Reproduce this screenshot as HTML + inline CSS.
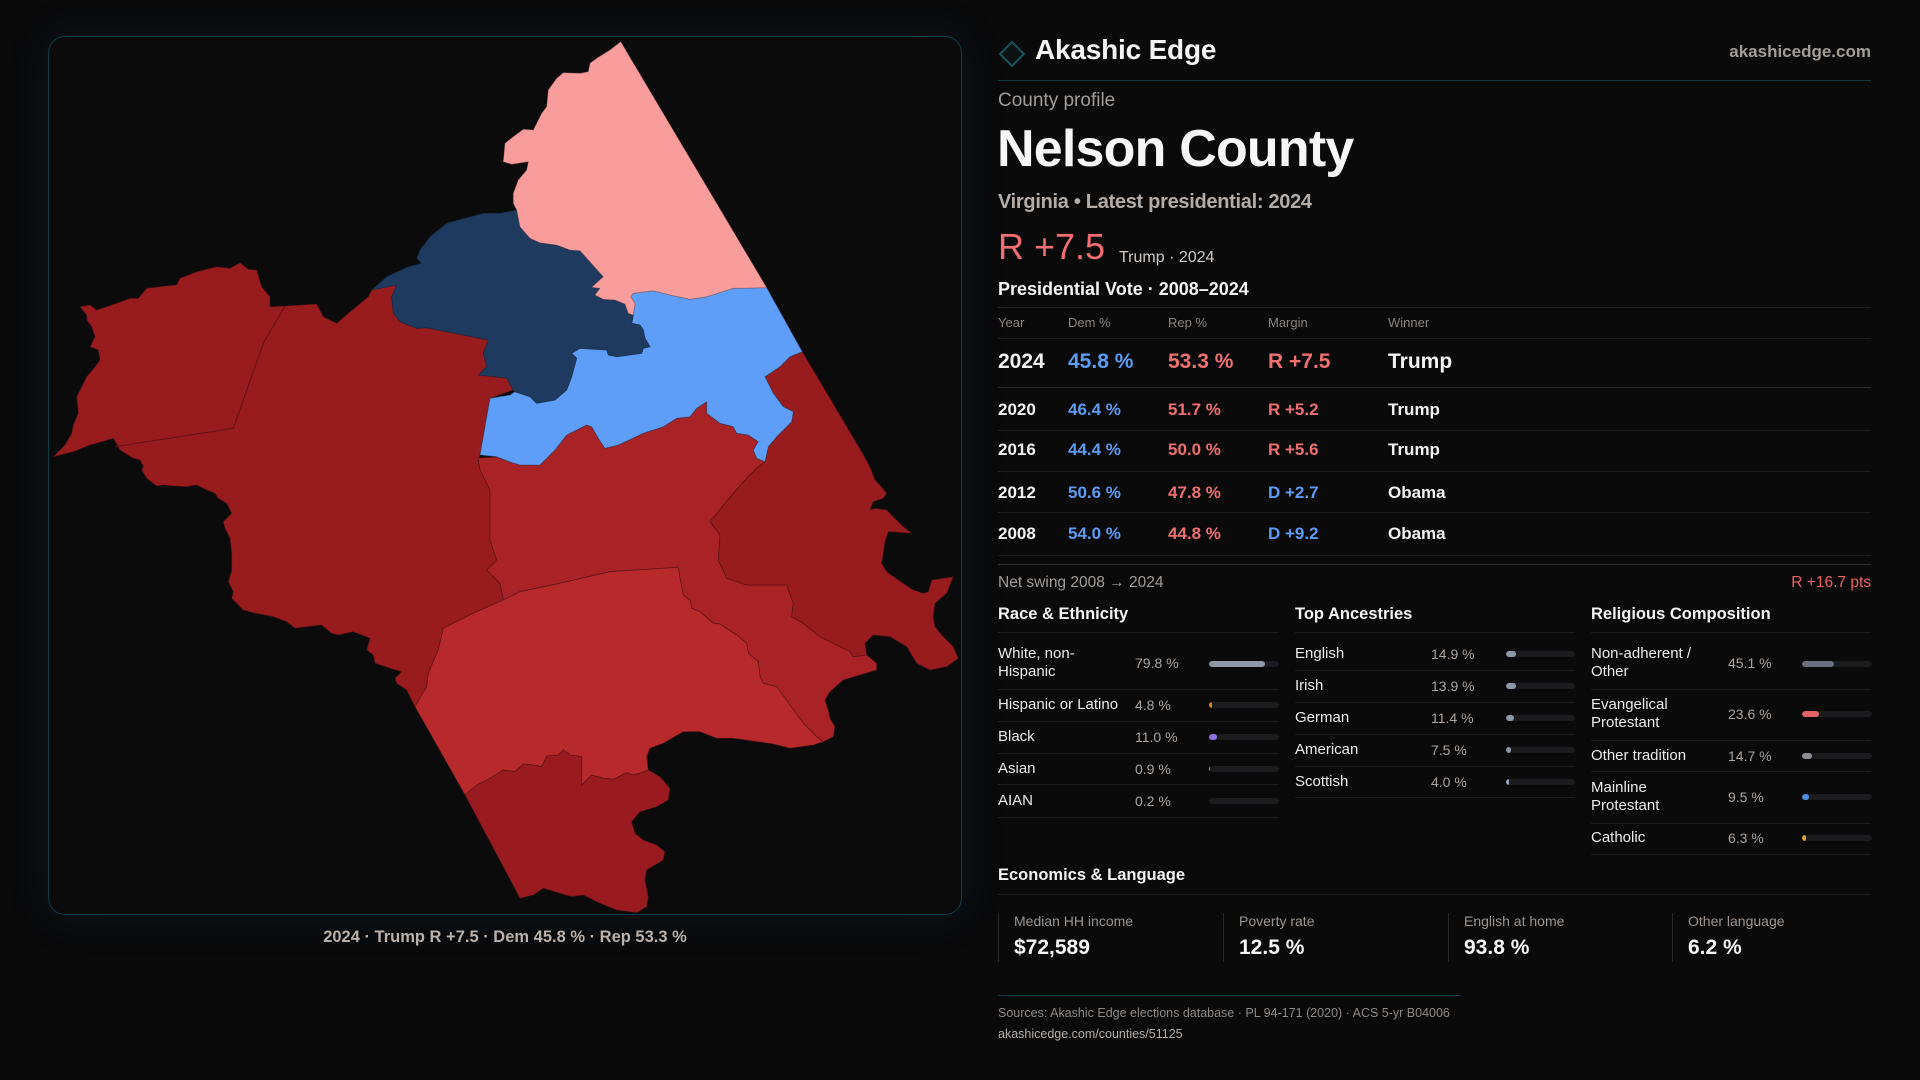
<!DOCTYPE html>
<html><head><meta charset="utf-8">
<style>
*{margin:0;padding:0;box-sizing:border-box}
html,body{width:1920px;height:1080px;background:#0a0a0b;overflow:hidden;font-family:"Liberation Sans",sans-serif;}
.a{position:absolute;white-space:nowrap;line-height:1}
.hl{position:absolute;height:1px;background:#1d1d20}
.th{font-size:13px;color:#8a847f;top:316px}
.r1{font-size:21px;font-weight:bold;top:351px}
.rr{font-size:17px;font-weight:bold}
.w{color:#f2f2f2}.d{color:#5b9cf6}.p{color:#f07070}
.lab{position:absolute;font-size:15px;line-height:18px;color:#ebebeb;white-space:nowrap}
.val{position:absolute;font-size:14px;line-height:18px;color:#aaa39e;white-space:nowrap}
.bar{position:absolute;height:6px;border-radius:3px;background:#1c1c1f;overflow:hidden}
.bar i{position:absolute;left:0;top:0;height:6px;border-radius:3px;display:block}
.sec{position:absolute;font-size:16.5px;font-weight:bold;color:#f2f2f2;line-height:1;top:606px;white-space:nowrap}
.box{position:absolute;top:913px;height:49px;width:224px;border-left:1px solid #2a2a2d}
.box .l{position:absolute;left:15px;top:1px;font-size:14px;color:#9c958f;line-height:1;white-space:nowrap}
.box .v{position:absolute;left:15px;top:24px;font-size:21px;font-weight:bold;color:#f4f4f4;line-height:1;white-space:nowrap}
</style></head><body>

<!-- map panel -->
<div style="position:absolute;left:48px;top:36px;width:914px;height:879px;border:1px solid #0f3d48;border-radius:17px;background:#0c0b0c;box-shadow:0 0 40px rgba(15,70,85,0.22)"></div>

<svg style="position:absolute;left:0;top:0" width="1920" height="1080" viewBox="0 0 1920 1080">
<g stroke="#3a1212" stroke-opacity="0.55" stroke-width="0.8" stroke-linejoin="round">
<!-- west dark red -->
<polygon fill="#981b1e" points="53.3,456.7 65,445 71.7,433.3 73.3,425 78.3,413.3 76.7,396.7 81.7,386.7 86.7,376.7 95,366.7 100,360 98.3,350 90,346.7 95,336.7 91.7,326.7 86.7,320 86.7,315 80,306.7 90,305 96.7,310 116.7,303.3 130,298.3 138.3,298.3 146.7,288.3 165,286 176.7,285 180,278.3 196.7,271.7 216.7,266.7 230,268.3 240,262.7 248.3,269.3 256.7,270 261.7,286.7 270,296.7 270,306.7 285,306 316.7,304 323.3,316.7 336.7,323.3 350,311.7 368.3,296.7 371.7,290 396.7,285 391.7,296.7 393.3,313.3 400,321.7 416.7,328.3 426.7,327.7 488.3,340 483.3,353.3 486.7,366.7 478.3,375 506.7,378 513,390 490,398.3 480,455 478,460 480,470 490,490 490,540 496.7,560 486.7,570 500,583.3 503.3,600 473.3,613.3 443.3,628.3 438.3,650 428.3,673.3 426.7,686.7 415,706.7 406.7,690 396.7,683.3 395,678.3 401.7,671.7 390,668.3 375,663.3 373.3,655 366.7,650 370,638.3 353.3,631.7 338.3,635 331.7,633.3 321.7,625 306.7,626.7 295,628.3 286.7,621.7 273.3,616.7 253.3,612.7 243.3,610 236.7,603.3 231.7,598.3 233.3,591.7 228.3,581.7 231.7,570 231.7,553.3 230,538.3 225,528.3 223.3,521.7 231.7,513.3 226.7,503.3 218.3,498.3 215,493.3 206.7,490 196.7,485 186.7,486.7 175,486 163.3,485 156.7,486 146.7,478.3 141.7,470 143.3,466 140,460 133.3,458.3 120,450 113.3,438.3 101.7,441.7 90,445 73.3,451.7"/>
<polyline fill="none" stroke="#5c1215" stroke-opacity="0.9" stroke-width="1" points="285,306 263.3,343.3 233.3,428.3 115,446.7"/>
<!-- central red -->
<polygon fill="#a82226" points="478,458 496.7,457 510,462 520,465 540,465 555,450 566.7,435 586.7,425 591.7,426.7 598.3,438.3 605,448.3 618.3,445 643.3,433.3 663.3,426.7 676.7,418.3 690,416.7 696.7,408.3 706.7,401.7 706.7,413.3 720,423.3 733.3,426.7 736.7,433.3 748.3,435 758.3,441.7 753.3,450 756.7,458.3 765,461.7 756.7,468.3 746.7,478.3 733.3,493.3 710,521.7 720,535 718.3,560 726.7,578.3 746.7,585 773.3,585 786.7,585 793.3,603.3 791.7,616.7 803.3,623.3 820,636.7 833.3,643.3 850,651.7 853.3,656.7 866.7,655 876.7,663.3 876.7,670 860,675 843.3,680 830,691.7 825,700 828.3,710 830,718.3 835,726.7 833.3,736.7 823.3,741.7 816.7,736.7 803.3,723.3 790,705 776.7,686.7 763.3,683.3 760,676.7 758.3,661.7 748.3,653.3 746.7,643.3 736.7,635 720,624 713.3,623.3 700,611.7 691.7,608.3 690,600 683.3,595 680,578.3 678.3,567.3 610,571.7 560,583.3 520,591.7 503.3,600 500,583.3 486.7,570 496.7,560 490,540 490,490 480,470"/>
<!-- lighter south-central -->
<polygon fill="#b8292c" points="503.3,600 520,591.7 560,583.3 610,571.7 678.3,567.3 680,578.3 683.3,595 690,600 691.7,608.3 700,611.7 713.3,623.3 720,624 736.7,635 746.7,643.3 748.3,653.3 758.3,661.7 760,676.7 763.3,683.3 776.7,686.7 790,705 803.3,723.3 816.7,736.7 823.3,741.7 813.3,745 790,748.3 773.3,744 733.3,738.3 716.7,738.3 700,731.7 683.3,731.7 663.3,743.3 650,748.3 646.7,756.7 648.3,770 640,773.3 633.3,775 626.7,772.7 613.3,779.3 603.3,778.3 591.7,775 581.7,785 581.7,756.7 570,755 563.3,750 558.3,755 546.7,756 541.7,766.7 533.3,765 523.3,764 515,771.7 503.3,770 490,778.3 476.7,785 465,795 415,706.7 426.7,686.7 428.3,673.3 438.3,650 443.3,628.3 473.3,613.3"/>
<!-- south dark red -->
<polygon fill="#991b1f" points="465,795 476.7,785 490,778.3 503.3,770 515,771.7 523.3,764 533.3,765 541.7,766.7 546.7,756 558.3,755 563.3,750 570,755 581.7,756.7 581.7,785 591.7,775 603.3,778.3 613.3,779.3 626.7,772.7 633.3,775 640,773.3 648.3,770 651.7,771.7 660,776.7 670,788.3 668.3,800 656.7,806.7 640,811.7 631.7,821.7 635,833.3 643.3,840 656.7,845 665,851.7 663.3,860 646.7,870 645,880 648.3,896.7 646.7,906.7 636.7,912.7 616.7,910 600,903.3 583.3,895 571.7,896.7 560,893.3 543.3,888.3 533.3,895 520,898.3"/>
<!-- east dark red -->
<polygon fill="#981b1e" points="802.3,351.7 863,454 870,467 875,480 878.3,483.3 886.7,493.3 883.3,498.3 873.3,501.7 870,510 875,508.3 886.7,510 903.3,526.7 911.7,533.3 888.3,531.7 885,541.7 883.3,553.3 881.7,563.3 886.7,571.7 898.3,580 913.3,590 923.3,593.3 928.3,591.7 931.7,580 953.3,576.7 946.7,593.3 935,603.3 933.3,616.7 935,626.7 943.3,636.7 953.3,646.7 958.3,658.3 946.7,666.7 930,670 916.7,663.3 906.7,646.7 890,636.7 873.3,635 865,643.3 866.7,655 853.3,656.7 850,651.7 833.3,643.3 820,636.7 803.3,623.3 791.7,616.7 793.3,603.3 786.7,585 746.7,585 726.7,578.3 718.3,560 720,535 710,521.7 733.3,493.3 746.7,478.3 756.7,468.3 765,461.7 768.3,446.7 776.7,436.7 791.7,421.7 793.3,411.7 783.3,406.7 773.3,393.3 765,376.7 780,366.7 790,356.7"/>
<!-- light blue -->
<polygon fill="#5e9ef8" stroke="#2a3a55" points="633.3,315 635,303.3 630.7,296.7 633.3,293.3 653.3,290.7 670,295 690,299.3 706.7,296.7 733.3,288.3 766.7,287.7 802.3,351.7 790,356.7 780,366.7 765,376.7 773.3,393.3 783.3,406.7 793.3,411.7 791.7,421.7 776.7,436.7 768.3,446.7 765,461.7 756.7,458.3 753.3,450 758.3,441.7 748.3,435 736.7,433.3 733.3,426.7 720,423.3 706.7,413.3 706.7,401.7 696.7,408.3 690,416.7 676.7,418.3 663.3,426.7 643.3,433.3 618.3,445 605,448.3 598.3,438.3 591.7,426.7 586.7,425 566.7,435 555,450 540,465 520,465 510,462 496.7,456.7 480,455 490,398.3 510,395 515,391.7 530,396.7 536.7,403.3 555,400 566.7,390 571.7,376.7 576.7,358.3 571.7,353.3 580,348.3 606.7,350 608.3,355 616.7,356.7 641.7,353.3 643.3,348.3 650,346.7 645,338.3 643.3,330 640,325 631.7,323.3"/>
<!-- navy -->
<polygon fill="#1f3a5f" stroke="#142640" points="483.3,213.3 500,213.3 516.7,210 520,226.7 530,238.3 540,242.7 556.7,245 570,250 580,250.7 603.3,276.7 591.7,287.3 600,288.3 595,295 603.3,299.3 615,300 625,304 628.3,313.3 633.3,315 631.7,323.3 640,325 643.3,330 645,338.3 650,346.7 643.3,348.3 641.7,353.3 616.7,356.7 608.3,355 606.7,350 580,348.3 571.7,353.3 576.7,358.3 571.7,376.7 566.7,390 555,400 536.7,403.3 530,396.7 515,391.7 513,390 506.7,378 478.3,375 486.7,366.7 483.3,353.3 488.3,340 426.7,327.7 416.7,328.3 400,321.7 393.3,313.3 391.7,296.7 396.7,285 371.7,290 386.7,276.7 406.7,267.3 421.7,263.3 416.7,258.3 420,250 430,236.7 446.7,223.3"/>
<!-- pink -->
<polygon fill="#f89c9c" stroke="#7a4a4a" stroke-opacity="0.4" points="620.7,41.7 610,50 596.7,58.3 590,63.3 588.3,71.7 580,73.3 563.3,72.7 556.7,78.3 548.3,90 546.7,106.7 541.7,113.3 536.7,123.3 533.3,130 523.3,129.3 513.3,136.7 505,143.3 503.3,161.7 511.7,164.3 528.3,161.7 526.7,170 518.3,180 513.3,193.3 513.3,203.3 516.7,210 520,226.7 530,238.3 540,242.7 556.7,245 570,250 580,250.7 603.3,276.7 591.7,287.3 600,288.3 595,295 603.3,299.3 615,300 625,304 628.3,313.3 633.3,315 635,303.3 630.7,296.7 633.3,293.3 653.3,290.7 670,295 690,299.3 706.7,296.7 733.3,288.3 766.7,287.7"/>
</g>
</svg>

<div class="a" style="left:48px;width:914px;text-align:center;top:929px;font-size:16.5px;font-weight:bold;color:#b9b1ab">2024 · Trump R +7.5 · Dem 45.8 % · Rep 53.3 %</div>

<!-- header -->
<svg style="position:absolute;left:998px;top:40px" width="28" height="28" viewBox="0 0 28 28"><polygon points="14,2 26,14 14,26 2,14" fill="#0b1214" stroke="#17535f" stroke-width="2"/></svg>
<div class="a" style="left:1035px;top:36px;font-size:28px;font-weight:bold;color:#f4f4f4;letter-spacing:-0.2px">Akashic Edge</div>
<div class="a" style="right:49px;top:43px;font-size:17px;font-weight:bold;color:#a39d98">akashicedge.com</div>
<div class="hl" style="left:998px;width:873px;top:80px;background:#0f3a42"></div>

<div class="a" style="left:998px;top:91px;font-size:19px;color:#a19c98">County profile</div>
<div class="a" style="left:997px;top:123px;font-size:52px;font-weight:bold;color:#f6f6f6;letter-spacing:-0.8px">Nelson County</div>
<div class="a" style="left:998px;top:192px;font-size:20px;font-weight:bold;color:#b3aca7;letter-spacing:-0.3px">Virginia • Latest presidential: 2024</div>
<div class="a" style="left:998px;top:229px;font-size:36px;color:#f26d6d">R +7.5</div>
<div class="a" style="left:1119px;top:250px;font-size:16px;color:#cfc9c4">Trump · 2024</div>
<div class="a" style="left:998px;top:280px;font-size:18px;font-weight:bold;color:#f4f4f4">Presidential Vote · 2008–2024</div>
<div class="hl" style="left:998px;width:873px;top:307px;background:#222225"></div>

<!-- table -->
<div class="a th" style="left:998px">Year</div>
<div class="a th" style="left:1068px">Dem %</div>
<div class="a th" style="left:1168px">Rep %</div>
<div class="a th" style="left:1268px">Margin</div>
<div class="a th" style="left:1388px">Winner</div>
<div class="hl" style="left:998px;width:873px;top:338px"></div>

<div class="a r1 w" style="left:998px">2024</div>
<div class="a r1 d" style="left:1068px">45.8 %</div>
<div class="a r1 p" style="left:1168px">53.3 %</div>
<div class="a r1 p" style="left:1268px">R +7.5</div>
<div class="a r1 w" style="left:1388px">Trump</div>
<div class="hl" style="left:998px;width:873px;top:387px;background:#2b2b2e"></div>

<div class="a rr w" style="left:998px;top:401px">2020</div>
<div class="a rr d" style="left:1068px;top:401px">46.4 %</div>
<div class="a rr p" style="left:1168px;top:401px">51.7 %</div>
<div class="a rr p" style="left:1268px;top:401px">R +5.2</div>
<div class="a rr w" style="left:1388px;top:401px">Trump</div>
<div class="hl" style="left:998px;width:873px;top:430px"></div>

<div class="a rr w" style="left:998px;top:441px">2016</div>
<div class="a rr d" style="left:1068px;top:441px">44.4 %</div>
<div class="a rr p" style="left:1168px;top:441px">50.0 %</div>
<div class="a rr p" style="left:1268px;top:441px">R +5.6</div>
<div class="a rr w" style="left:1388px;top:441px">Trump</div>
<div class="hl" style="left:998px;width:873px;top:471px"></div>

<div class="a rr w" style="left:998px;top:484px">2012</div>
<div class="a rr d" style="left:1068px;top:484px">50.6 %</div>
<div class="a rr p" style="left:1168px;top:484px">47.8 %</div>
<div class="a rr d" style="left:1268px;top:484px">D +2.7</div>
<div class="a rr w" style="left:1388px;top:484px">Obama</div>
<div class="hl" style="left:998px;width:873px;top:512px"></div>

<div class="a rr w" style="left:998px;top:525px">2008</div>
<div class="a rr d" style="left:1068px;top:525px">54.0 %</div>
<div class="a rr p" style="left:1168px;top:525px">44.8 %</div>
<div class="a rr d" style="left:1268px;top:525px">D +9.2</div>
<div class="a rr w" style="left:1388px;top:525px">Obama</div>
<div class="hl" style="left:998px;width:873px;top:555px"></div>
<div class="hl" style="left:998px;width:873px;top:564px;background:#303033"></div>

<div class="a" style="left:998px;top:575px;font-size:15.5px;color:#a39d98">Net swing 2008 → 2024</div>
<div class="a" style="right:49px;top:575px;font-size:15.5px;color:#f06464">R +16.7 pts</div>

<!-- sections -->
<div class="sec" style="left:998px">Race &amp; Ethnicity</div>
<div class="sec" style="left:1295px">Top Ancestries</div>
<div class="sec" style="left:1591px">Religious Composition</div>
<div class="hl" style="left:998px;width:281px;top:632px"></div>
<div class="hl" style="left:1295px;width:280px;top:632px"></div>
<div class="hl" style="left:1591px;width:280px;top:632px"></div>

<!-- race -->
<div class="lab" style="left:998px;top:645px">White, non-<br>Hispanic</div>
<div class="val" style="left:1135px;top:654px">79.8 %</div>
<div class="bar" style="left:1209px;top:661px;width:70px"><i style="width:56px;background:#8e98a8"></i></div>
<div class="hl" style="left:998px;width:281px;top:689px"></div>
<div class="lab" style="left:998px;top:696px">Hispanic or Latino</div>
<div class="val" style="left:1135px;top:696px">4.8 %</div>
<div class="bar" style="left:1209px;top:702px;width:70px"><i style="width:3px;background:#d98a1c"></i></div>
<div class="hl" style="left:998px;width:281px;top:721px"></div>
<div class="lab" style="left:998px;top:728px">Black</div>
<div class="val" style="left:1135px;top:728px">11.0 %</div>
<div class="bar" style="left:1209px;top:734px;width:70px"><i style="width:7.7px;background:#8f70e0"></i></div>
<div class="hl" style="left:998px;width:281px;top:753px"></div>
<div class="lab" style="left:998px;top:760px">Asian</div>
<div class="val" style="left:1135px;top:760px">0.9 %</div>
<div class="bar" style="left:1209px;top:766px;width:70px"><i style="width:0.6px;background:#5ab0a0"></i></div>
<div class="hl" style="left:998px;width:281px;top:784px"></div>
<div class="lab" style="left:998px;top:792px">AIAN</div>
<div class="val" style="left:1135px;top:792px">0.2 %</div>
<div class="bar" style="left:1209px;top:798px;width:70px"></div>
<div class="hl" style="left:998px;width:281px;top:817px"></div>

<!-- ancestry -->
<div class="lab" style="left:1295px;top:645px">English</div>
<div class="val" style="left:1431px;top:645px">14.9 %</div>
<div class="bar" style="left:1506px;top:651px;width:69px"><i style="width:10.4px;background:#8e98a8"></i></div>
<div class="hl" style="left:1295px;width:280px;top:670px"></div>
<div class="lab" style="left:1295px;top:677px">Irish</div>
<div class="val" style="left:1431px;top:677px">13.9 %</div>
<div class="bar" style="left:1506px;top:683px;width:69px"><i style="width:9.7px;background:#8e98a8"></i></div>
<div class="hl" style="left:1295px;width:280px;top:702px"></div>
<div class="lab" style="left:1295px;top:709px">German</div>
<div class="val" style="left:1431px;top:709px">11.4 %</div>
<div class="bar" style="left:1506px;top:715px;width:69px"><i style="width:8px;background:#8e98a8"></i></div>
<div class="hl" style="left:1295px;width:280px;top:734px"></div>
<div class="lab" style="left:1295px;top:741px">American</div>
<div class="val" style="left:1431px;top:741px">7.5 %</div>
<div class="bar" style="left:1506px;top:747px;width:69px"><i style="width:5.3px;background:#8e98a8"></i></div>
<div class="hl" style="left:1295px;width:280px;top:766px"></div>
<div class="lab" style="left:1295px;top:773px">Scottish</div>
<div class="val" style="left:1431px;top:773px">4.0 %</div>
<div class="bar" style="left:1506px;top:779px;width:69px"><i style="width:2.8px;background:#9aa6c0"></i></div>
<div class="hl" style="left:1295px;width:280px;top:797px"></div>

<!-- religion -->
<div class="lab" style="left:1591px;top:645px">Non-adherent /<br>Other</div>
<div class="val" style="left:1728px;top:654px">45.1 %</div>
<div class="bar" style="left:1802px;top:661px;width:70px"><i style="width:31.6px;background:#6b6f7b"></i></div>
<div class="hl" style="left:1591px;width:280px;top:689px"></div>
<div class="lab" style="left:1591px;top:696px">Evangelical<br>Protestant</div>
<div class="val" style="left:1728px;top:705px">23.6 %</div>
<div class="bar" style="left:1802px;top:711px;width:70px"><i style="width:16.5px;background:#e06464"></i></div>
<div class="hl" style="left:1591px;width:280px;top:740px"></div>
<div class="lab" style="left:1591px;top:747px">Other tradition</div>
<div class="val" style="left:1728px;top:747px">14.7 %</div>
<div class="bar" style="left:1802px;top:753px;width:70px"><i style="width:10.3px;background:#8d8f96"></i></div>
<div class="hl" style="left:1591px;width:280px;top:771px"></div>
<div class="lab" style="left:1591px;top:779px">Mainline<br>Protestant</div>
<div class="val" style="left:1728px;top:788px">9.5 %</div>
<div class="bar" style="left:1802px;top:794px;width:70px"><i style="width:6.7px;background:#4d8fe6"></i></div>
<div class="hl" style="left:1591px;width:280px;top:823px"></div>
<div class="lab" style="left:1591px;top:829px">Catholic</div>
<div class="val" style="left:1728px;top:829px">6.3 %</div>
<div class="bar" style="left:1802px;top:835px;width:70px"><i style="width:4.4px;background:#d9a22a"></i></div>
<div class="hl" style="left:1591px;width:280px;top:854px"></div>

<!-- economics -->
<div class="a" style="left:998px;top:867px;font-size:16.5px;font-weight:bold;color:#f2f2f2">Economics &amp; Language</div>
<div class="hl" style="left:998px;width:873px;top:894px"></div>
<div class="box" style="left:998px"><div class="l">Median HH income</div><div class="v">$72,589</div></div>
<div class="box" style="left:1223px"><div class="l">Poverty rate</div><div class="v">12.5 %</div></div>
<div class="box" style="left:1448px"><div class="l">English at home</div><div class="v">93.8 %</div></div>
<div class="box" style="left:1672px"><div class="l">Other language</div><div class="v">6.2 %</div></div>

<!-- footer -->
<div class="hl" style="left:998px;width:463px;top:995px;background:#123c44"></div>
<div class="a" style="left:998px;top:1007px;font-size:12.5px;color:#8f8883">Sources: Akashic Edge elections database · PL 94-171 (2020) · ACS 5-yr B04006</div>
<div class="a" style="left:998px;top:1028px;font-size:12.5px;color:#b5aea8">akashicedge.com/counties/51125</div>

</body></html>
